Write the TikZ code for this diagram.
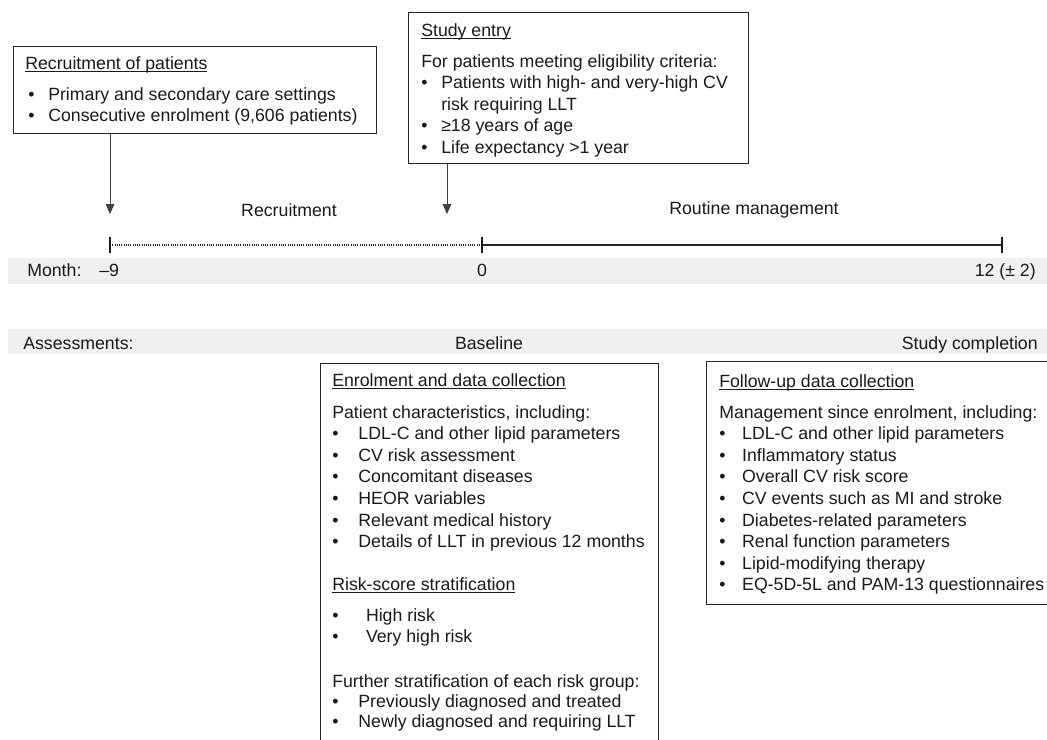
\documentclass[tikz,border=0pt]{standalone}
\usepackage{fontspec}
\setmainfont{Liberation Sans}
\usetikzlibrary{arrows.meta}

\newcommand{\bul}[1][0.5cm]{\makebox[#1][l]{\textbullet}}
\newcommand{\undl}[1]{\setbox0\hbox{#1}\rlap{\rule[-2.2pt]{\wd0}{0.6pt}}\box0}

\tikzset{
  panel/.style={draw=black!85, line width=0.9pt, anchor=north west, inner sep=0pt},
  band/.style={fill=black!6},
  txt/.style={inner sep=0pt, text=black!90, font=\fontsize{12.6pt}{0.54cm}\selectfont},
  list/.style={txt, align=left, anchor=north west},
  head/.style={txt, anchor=base west},
  drop/.style={draw=black!75, line width=0.7pt, -{Triangle[width=6pt,length=7pt]}},
  tick/.style={line width=1.5pt, draw=black!90}
}

\begin{document}
\begin{tikzpicture}[x=0.025cm, y=-0.025cm]
		\useasboundingbox (0,0) rectangle (1047,739);
		\clip (0,0) rectangle (1047,739);
		
		% Boxes above the time line
		\node[panel, minimum width=9.075cm, minimum height=2.175cm] (recBox) at (13,46) {};
		\node[head] (recHead) at (25,69) {\undl{Recruitment of patients}};
		\node[list] (recList) at (28,87) {\bul Primary and secondary care settings\\
			\bul Consecutive enrolment (9,606 patients)};
		
		\node[panel, minimum width=8.5cm, minimum height=3.775cm] (entryBox) at (408,12) {};
		\node[head] (entryHead) at (421,36) {\undl{Study entry}};
		\node[list] (entryList) at (421,54) {For patients meeting eligibility criteria:\\
			\bul Patients with high- and very-high CV\\
			\hspace*{0.5cm}risk requiring LLT\\
			\bul ≥18 years of age\\
			\bul Life expectancy >1 year};
		
		% Arrows down to the time line
		\coordinate (recTip) at (110,214);
		\coordinate (entryTip) at (447,214);
		\draw[drop] (recBox.south -| recTip) -- (recTip);
		\draw[drop] (entryBox.south -| entryTip) -- (entryTip);
		
		\node[txt] (phaseRec) at (289,210) {Recruitment};
		\node[txt] (phaseRout) at (754,210) {Routine management};
		
		% Time line
		\coordinate (mStart) at (110,245);
		\coordinate (mZero) at (482,245);
		\coordinate (mEnd) at (1002,245);
		\draw[black!85, line width=0.9pt, dash pattern=on 0.7pt off 0.9pt] (mStart) -- (mZero);
		\draw[black!85, line width=1.5pt] (mZero) -- (mEnd);
		\foreach \p in {mStart, mZero, mEnd}
			\draw[tick] ([yshift=0.2cm]\p) -- ([yshift=-0.2cm]\p);
		
		% Month band
		\fill[band] (8,258) rectangle (1047,284);
		\node[head] (monthLab) at (27,276) {Month:};
		\node[head] (mStartLab) at (99,276) {–9};
		\node[txt, anchor=base] (mZeroLab) at (mZero |- 0,276) {0};
		\node[txt, anchor=base east] (mEndLab) at (1036,276) {12 (± 2)};
		
		% Assessments band
		\fill[band] (8,329) rectangle (1047,354);
		\node[head] (assessLab) at (23,349) {Assessments:};
		\node[txt, anchor=base] (baseLab) at (489,349) {Baseline};
		\node[txt, anchor=base east] (doneLab) at (1038,349) {Study completion};
		
		% Baseline box
		\node[panel, minimum width=8.45cm, minimum height=9.925cm] (baseBox) at (320,363) {};
		\node[head] (enrolHead) at (332,386) {\undl{Enrolment and data collection}};
		\node[list] (enrolList) at (332,405) {Patient characteristics, including:\\
			\bul[0.53cm] LDL-C and other lipid parameters\\
			\bul[0.53cm] CV risk assessment\\
			\bul[0.53cm] Concomitant diseases\\
			\bul[0.53cm] HEOR variables\\
			\bul[0.53cm] Relevant medical history\\
			\bul[0.53cm] Details of LLT in previous 12 months};
		\node[head] (riskHead) at (332,590) {\undl{Risk-score stratification}};
		\node[list] (riskList) at (332,608) {\bul[0.72cm] High risk\\
			\bul[0.72cm] Very high risk};
		\node[list] (furtherList) at (332,674) {Further stratification of each risk group:\\[-0.03cm]
			\bul[0.53cm] Previously diagnosed and treated\\[-0.03cm]
			\bul[0.53cm] Newly diagnosed and requiring LLT};
		
		% Follow-up box
		\node[panel, minimum width=8.85cm, minimum height=6.075cm] (followBox) at (706,361) {};
		\node[head] (followHead) at (719,387) {\undl{Follow-up data collection}};
		\node[list] (followList) at (719,405) {Management since enrolment, including:\\
			\bul[0.45cm] LDL-C and other lipid parameters\\
			\bul[0.45cm] Inflammatory status\\
			\bul[0.45cm] Overall CV risk score\\
			\bul[0.45cm] CV events such as MI and stroke\\
			\bul[0.45cm] Diabetes-related parameters\\
			\bul[0.45cm] Renal function parameters\\
			\bul[0.45cm] Lipid-modifying therapy\\
			\bul[0.45cm] EQ-5D-5L and PAM-13 questionnaires};
	\end{tikzpicture}
\end{document}
